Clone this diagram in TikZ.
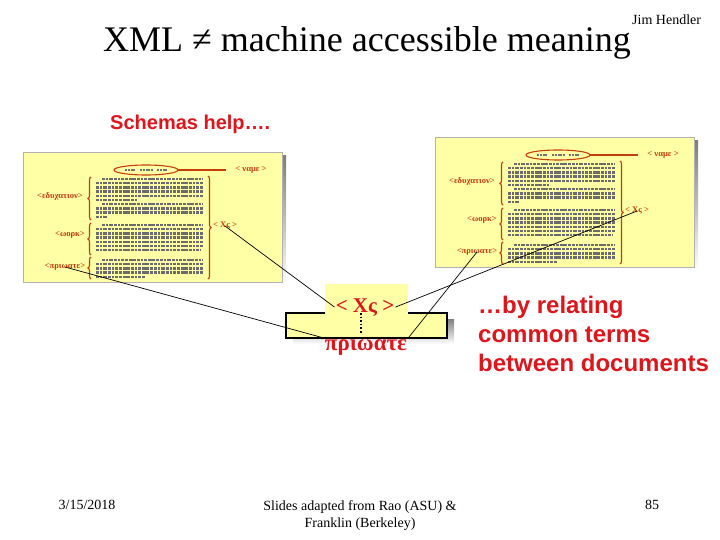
\documentclass[tikz,border=0pt]{standalone}
\usepackage{fontspec}
\setmainfont{Liberation Serif}
\newfontfamily\arialfont{Liberation Sans}
\usetikzlibrary{decorations.pathreplacing}
\definecolor{slidered}{RGB}{222,22,28}
\definecolor{docyellow}{RGB}{255,255,165}
\definecolor{docorange}{RGB}{196,62,12}
\definecolor{shade}{RGB}{140,140,140}
\tikzset{
  txt/.style={black!58, line width=2.5pt, dash pattern=on 3.1pt off 0.9pt on 2.4pt off 0.8pt on 3.4pt off 1pt},
  bracket/.style={docorange, line width=1.1pt},
  bracebar/.style={bracket, decorate, decoration={brace, amplitude=3pt}},
  doclabel/.style={text=docorange, font=\fontsize{8.6}{9}\selectfont\bfseries, inner sep=1pt},
  conn/.style={black, line width=0.7pt},
  redsans/.style 2 args={text=slidered, font=\arialfont\bfseries\fontsize{#1}{#2}\selectfont, inner sep=0pt},
  cvdoc/.pic={
    \fill[shade] (4,4) rectangle (263,134);
    \fill[docyellow] (0,0) rectangle (259,130);
    \draw[black!30, line width=0.5pt] (0,0) rectangle (259,130);
    \draw[bracket] (123,18) ellipse [x radius=32, y radius=5];
    \draw[black!55, line width=1.6pt, dash pattern=on 2pt off 0.8pt]
      (102,18) -- (113,18) (117,18) -- (130,18) (134,18) -- (145,18);
    \draw[bracket] (155,18) -- (203,18);
    \node[doclabel] (-name) at (228,18) {< ναμε >};
    \node[doclabel] (-edu) at (37,44) {<εδυχατιον>};
    \node[doclabel] (-work) at (47,83) {<ωορκ>};
    \node[doclabel] (-priv) at (42,115) {<πριωατε>};
    \node[doclabel] (-xs) at (202,74) {< Χς >};
    \foreach \yy/\xa/\xb in {27/79/180, 31.2/73/180, 35.4/73/180, 39.6/73/180,
        43.8/73/180, 48/73/115, 52.2/79/180, 56.4/73/180, 60.6/73/180, 64.8/73/84,
        73/79/180, 77.2/73/180, 81.4/73/180, 85.6/73/180, 89.8/73/180, 94/73/180, 98.2/73/178,
        108/79/180, 112.2/73/180, 116.4/73/180, 120.6/73/180, 124.8/73/122}
      {\draw[txt] (\xa,\yy) -- (\xb,\yy);}
    \draw[bracebar] (68,68) -- (68,25);
    \draw[bracebar] (68,103) -- (68,71);
    \draw[bracebar] (68,127) -- (68,105);
    \draw[bracebar] (185,24) -- (185,127);
  }
}
\begin{document}
\begin{tikzpicture}[x=1pt,y=-1pt]
\fill[white] (0,0) rectangle (720,540);
\useasboundingbox (0,0) rectangle (720,540);

% title
\node[anchor=base west, inner sep=0pt, font=\fontsize{36}{40}\selectfont] (title) at (103,52) {XML ≠ machine accessible meaning};
\node[anchor=base west, inner sep=0pt, font=\fontsize{14}{16}\selectfont] (author) at (632,25) {Jim Hendler};

\node[redsans={20}{24}, anchor=base west] (schemas) at (110,130) {Schemas help….};

% documents
\pic (L) at (23,152) {cvdoc};
\pic (R) at (435,137) {cvdoc};

% middle box
\fill[shade] (293,319) rectangle (454,344);
\node[draw=black, line width=1.3pt, fill=docyellow, minimum width=161pt, minimum height=25pt, inner sep=0pt] (Mbox) at (366.5,325.5) {};
\node[fill=docyellow, minimum width=83pt, minimum height=29.8pt, inner sep=0pt] (Mtop) at (366.5,299) {};
\node[anchor=base, text=slidered, inner sep=1pt, font=\fontsize{21}{24}\selectfont\bfseries] (Mxs) at (365,312) {< Χς >};
\node[anchor=base, text=slidered, inner sep=1pt, font=\fontsize{23}{26}\selectfont\bfseries] (Mpriv) at (366,350) {πριωατε};
\coordinate (dtop) at (361,313);
\coordinate (dbot) at (361,333);
\draw[black, line width=1.6pt, dotted] (dtop) -- (dbot);

% connectors
\draw[conn] (L-xs.center) -- (Mxs.west);
\draw[conn] (L-priv.center) -- (Mpriv.north west);
\draw[conn] (R-xs.center) -- (Mxs.east);
\draw[conn] (R-priv.center) -- (Mpriv.north east);

\node[redsans={24}{29}, anchor=north west, align=left] (relating) at (478,296) {…by relating\\common terms\\between documents};

% footer
\node[anchor=base, inner sep=0pt, font=\fontsize{14}{16}\selectfont] (date) at (87,509) {3/15/2018};
\node[anchor=base, inner sep=0pt, font=\fontsize{14}{16}\selectfont] (credit1) at (360,510) {Slides adapted from Rao (ASU) \&};
\node[anchor=base, inner sep=0pt, font=\fontsize{14}{16}\selectfont] (credit2) at (360,527) {Franklin (Berkeley)};
\node[anchor=base, inner sep=0pt, font=\fontsize{14}{16}\selectfont] (page) at (652,509) {85};
\end{tikzpicture}
\end{document}
